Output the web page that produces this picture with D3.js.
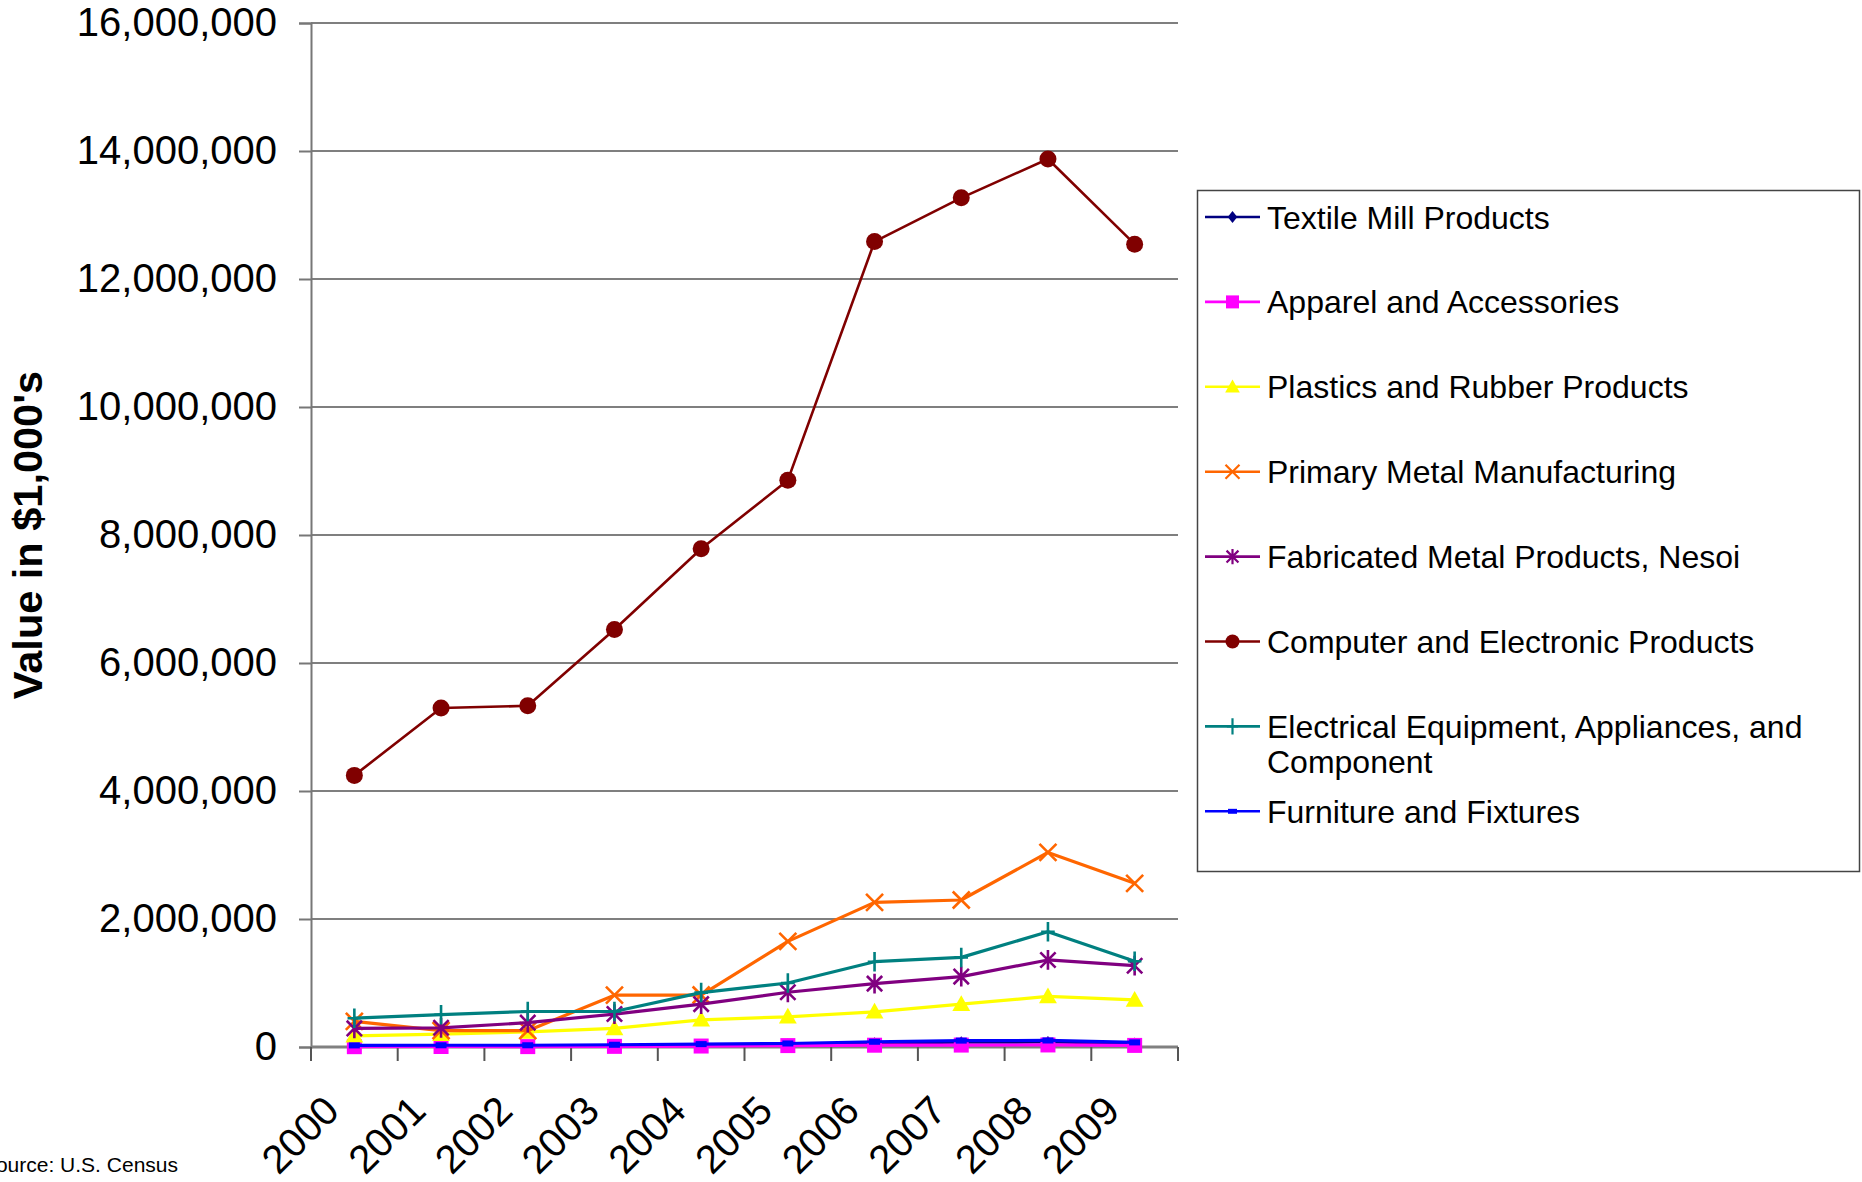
<!DOCTYPE html>
<html>
<head>
<meta charset="utf-8">
<script src="https://cdn.jsdelivr.net/npm/d3@7"></script>
<style>
html,body{margin:0;padding:0;background:#fff;}
svg{display:block;font-family:"Liberation Sans",Arial,Helvetica,sans-serif;}
</style>
</head>
<body>
<svg id="chart" width="1862" height="1182"></svg>
<script>
// ---- data ----
const years = ["2000","2001","2002","2003","2004","2005","2006","2007","2008","2009"];
const yTicks = [0, 2000000, 4000000, 6000000, 8000000, 10000000, 12000000, 14000000, 16000000];

const textile    = [15000, 18000, 17000, 22000, 30000, 40000, 60000, 75000, 78000, 55000];
const apparel    = [5000, 8000, 6000, 10000, 15000, 22000, 28000, 30000, 32000, 25000];
const plastics   = [175000, 200000, 235000, 290000, 425000, 472000, 550000, 670000, 790000, 735000];
const primaryMetal = [400000, 255000, 255000, 810000, 812000, 1650000, 2260000, 2297000, 3040000, 2557000];
const fabricated = [290000, 300000, 380000, 515000, 670000, 855000, 990000, 1100000, 1360000, 1270000];
const computer   = [4244000, 5296000, 5331000, 6523000, 7784000, 8857000, 12585000, 13268000, 13875000, 12544000];
const electrical = [450000, 505000, 555000, 555000, 850000, 1000000, 1333000, 1400000, 1800000, 1340000];
const furniture  = [25000, 27000, 27000, 35000, 45000, 55000, 82000, 100000, 102000, 72000];

const seriesNames = [
  "Textile Mill Products",
  "Apparel and Accessories",
  "Plastics and Rubber Products",
  "Primary Metal Manufacturing",
  "Fabricated Metal Products, Nesoi",
  "Computer and Electronic Products",
  "Electrical Equipment, Appliances, and|Component",
  "Furniture and Fixtures"
];
const seriesValues = [textile, apparel, plastics, primaryMetal, fabricated, computer, electrical, furniture];
const seriesColors = ["#000080", "#FF00FF", "#FFFF00", "#FF6600", "#800080", "#800000", "#008080", "#0000FF"];
const seriesMarkers = ["diamond", "square", "triangle", "x", "star", "circle", "plus", "dash"];

const yAxisTitle = "Value in $1,000's";
const sourceText = "Source: U.S. Census";

// ---- layout ----
const svg = d3.select("#chart");
const L = 311, R = 1178, T = 23, B = 1047;

const x = d3.scaleBand().domain(years).range([L, R]).padding(0);
const y = d3.scaleLinear().domain([0, 16000000]).range([B, T]);
const cx = d => x(d) + x.bandwidth() / 2;

// gridlines
svg.append("g").selectAll("line").data(yTicks.filter(v => v > 0)).join("line")
  .attr("x1", L).attr("x2", R)
  .attr("y1", d => y(d)).attr("y2", d => y(d))
  .attr("stroke", "#555").attr("stroke-width", 1.3);

// y axis
const yAxis = d3.axisLeft(y).tickValues(yTicks).tickFormat(d3.format(",")).tickSize(12).tickPadding(22);
const gy = svg.append("g").attr("transform", `translate(${L},0)`).call(yAxis);
gy.select(".domain").attr("stroke", "#777").attr("stroke-width", 2);
gy.selectAll(".tick line").attr("stroke", "#777").attr("stroke-width", 2);
gy.selectAll(".tick text").attr("font-size", 40).attr("fill", "#000")
  .attr("font-family", "Liberation Sans, Arial, sans-serif");

// x axis line and category-boundary ticks
const bounds = years.map(d => x(d)).concat([R]);
svg.append("line").attr("x1", L).attr("x2", R).attr("y1", B).attr("y2", B)
  .attr("stroke", "#808080").attr("stroke-width", 3);
svg.append("g").selectAll("line").data(bounds).join("line")
  .attr("x1", d => d).attr("x2", d => d).attr("y1", B).attr("y2", B + 14)
  .attr("stroke", "#555").attr("stroke-width", 2);

// x labels
svg.append("g").selectAll("text").data(years).join("text")
  .attr("transform", d => `translate(${cx(d) - 13},${B + 66}) rotate(-45)`)
  .attr("text-anchor", "end")
  .attr("font-size", 40).attr("fill", "#000")
  .text(d => d);

// marker generator
function markerPath(type, s) {
  switch (type) {
    case "diamond": return `M0,${-s}L${s*0.8},0L0,${s}L${-s*0.8},0Z`;
    case "square": return `M${-s},${-s}H${s}V${s}H${-s}Z`;
    case "triangle": return `M0,${-s*1.05}L${s*1.05},${s*0.8}L${-s*1.05},${s*0.8}Z`;
    case "x": return `M${-s},${-s}L${s},${s}M${-s},${s}L${s},${-s}`;
    case "star": return `M${-s*0.85},${-s*0.85}L${s*0.85},${s*0.85}M${-s*0.85},${s*0.85}L${s*0.85},${-s*0.85}M0,${-s*1.1}L0,${s*1.1}`;
    case "plus": return `M0,${-s*1.15}L0,${s*1.15}M${-s*0.8},0L${s*0.8},0`;
    case "circle": return d3.symbol(d3.symbolCircle, Math.PI * s * s)();
    case "dash": return `M${-s},${-s*0.55}H${s}V${s*0.55}H${-s}Z`;
  }
}
const strokeMarkers = new Set(["x", "star", "plus"]);
const markerSize = { diamond: 6, square: 7.5, triangle: 8.5, x: 8.5, star: 9, plus: 8.5, circle: 8.5, dash: 5.5 };
const legendMarkerSize = { diamond: 6, square: 6.5, triangle: 7, x: 7, star: 7, plus: 7, circle: 7, dash: 4.5 };

// series
const line = d3.line().x((d, i) => cx(years[i])).y(d => y(d));
seriesValues.forEach((vals, k) => {
  const g = svg.append("g");
  const col = seriesColors[k];
  const mk = seriesMarkers[k];
  g.append("path").attr("d", line(vals)).attr("fill", "none")
    .attr("stroke", col).attr("stroke-width", k === 5 ? 2.6 : 3.2).attr("stroke-linejoin", "round");
  g.selectAll("path.m").data(vals).join("path").attr("class", "m")
    .attr("transform", (d, i) => `translate(${cx(years[i])},${y(d)})`)
    .attr("d", markerPath(mk, markerSize[mk]))
    .attr("fill", strokeMarkers.has(mk) ? "none" : col)
    .attr("stroke", col)
    .attr("stroke-width", strokeMarkers.has(mk) ? 2.6 : 0);
});

// legend
const lg = svg.append("g");
lg.append("rect").attr("x", 1197.5).attr("y", 190.5).attr("width", 662).attr("height", 681)
  .attr("fill", "#fff").attr("stroke", "#444").attr("stroke-width", 1.5);
seriesNames.forEach((name, k) => {
  const yy = 217 + k * 84.9;
  const col = seriesColors[k];
  const mk = seriesMarkers[k];
  lg.append("line").attr("x1", 1205).attr("x2", 1260).attr("y1", yy).attr("y2", yy)
    .attr("stroke", col).attr("stroke-width", 2.6);
  lg.append("path").attr("transform", `translate(1232.5,${yy})`)
    .attr("d", markerPath(mk, legendMarkerSize[mk]))
    .attr("fill", strokeMarkers.has(mk) ? "none" : col)
    .attr("stroke", col).attr("stroke-width", strokeMarkers.has(mk) ? 2.2 : 0);
  const parts = name.split("|");
  const t = lg.append("text").attr("x", 1267).attr("y", yy)
    .attr("font-size", 32).attr("fill", "#000");
  parts.forEach((p, j) => {
    t.append("tspan").attr("x", 1267).attr("dy", j === 0 ? "0.36em" : "1.1em").text(p);
  });
});

// y axis title
svg.append("text").attr("transform", "translate(42,535) rotate(-90)")
  .attr("text-anchor", "middle").attr("font-size", 41.5).attr("font-weight", "bold")
  .attr("fill", "#000").text(yAxisTitle);

// source
svg.append("text").attr("x", 178).attr("y", 1172).attr("text-anchor", "end")
  .attr("font-size", 21).attr("fill", "#000").text(sourceText);
</script>
</body>
</html>
